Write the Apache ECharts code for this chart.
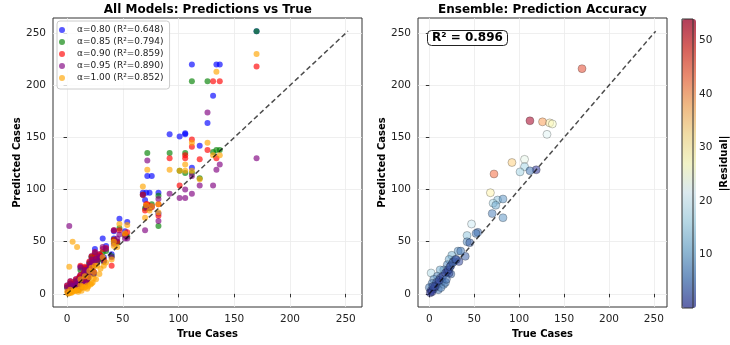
<!DOCTYPE html>
<html>
<head>
<meta charset="utf-8">
<script src="https://cdn.jsdelivr.net/npm/echarts@6/dist/echarts.min.js"></script>
<style>
  html, body { margin: 0; padding: 0; background: #fff; }
  #chart { width: 730px; height: 345px; }
</style>
</head>
<body>
<div id="chart"></div>
<script>
// test set, one entry per sample
var trueCases    = [170, 112, 126, 134, 137, 131, 119,  92, 106, 106, 101, 112,  72,  68,  76,  82,  71,  74,  70,  82,
                     47,  54,  52,  42,  42,  45,  32,  40,  25,  33,  22,  27,  20,  24,  16,  12,  20,  24,   2,   9,
                     12,   5,  14,   3,   9,  16,   0,   5,  10,   2,   7,  13,  18,   1,   3,  22,   6,
                      8,  11,  15,  18,  21,  23,  26,  29,   4,  19,  30,  35];
var predA080     = [252, 220, 164, 220, 220, 190, 142, 153, 153, 154, 151, 121, 113,  97, 113,  97,  97,  97,  90,  77,
                     72,  69,  60,  60,  53,  50,  53,  38,  43,  35,  36,  33,  30,  29,  25,  26,  23,  21,   3,  12,
                     18,   5,  15,  12,  11,  11,   8,   7,   5,   4,   9,   8,  14,   2,   3,  24,   9,
                     14,  16,  20,  24,  27,  31,  35,  38,   9,  17,  36,  46];
var predA085     = [252, 204, 204, 138, 138, 136, 111, 135, 135, 116, 118, 116, 135,  95,  86,  94,  84,  82,  82,  65,
                     63,  55,  56,  52,  50,  49,  40,  36,  38,  31,  35,  31,  29,  27,  24,  23,  21,  19,   3,  10,
                     16,   4,  12,  10,  10,   9,   6,   5,   4,   3,   7,   6,  12,   1,   2,  22,   8,
                     12,  14,  18,  22,  25,  28,  32,  34,   8,  15,  33,  41];
var predA090     = [218, 148, 138, 130, 204, 204, 129, 130, 133, 130, 104, 141,  86,  95,  83,  86,  86,  84,  80,  75,
                     61,  59,  57,  61,  52,  50,  43,  27,  40,  33,  36,  33,  31,  29,  26,  27,  23,  21,   4,  10,
                     18,   4,  14,  12,  11,  10,   8,   6,   5,   4,   9,   7,  13,   2,   3,  24,   9,
                     14,  16,  21,  25,  28,  32,  36,  38,  10,  17,  37,  44];
var predA095     = [130, 113, 174, 119, 124, 104, 104,  96, 100,  92,  92,  96, 128,  95,  84,  91,  83,  82,  61,  70,
                     57,  53,  53,  61,  48,  53,  45,  35,  40,  31,  33,  31,  28,  28,  23,  25,  21,  19,  65,  10,
                     15,   5,  12,  10,   9,   9,   6,   5,   4,   3,   7,   6,  11,   1,   2,  22,   8,
                     12,  14,  19,  23,  26,  30,  34,  36,   8,  16,  35,  43];
var predA100     = [230, 145, 145, 213, 133, 133, 110, 119, 124, 118, 118, 118, 119, 103,  84,  86,  85,  80,  73,  78,
                     67,  66,  58,  50,  46,  45,  35,  33,  27,  27,  25,  27,  22,  21,  17,  14,  16,  15,  26,  45,
                      8,  50,   7,   4,   4,   6,   2,   2,   2,   1,   3,   3,   5,   0,   1,  10,   3,
                      3,   4,   6,   8,   9,  11,  14,  19,   1,   7,  24,  30];
var ensemblePred = [216, 166, 165, 164, 163, 153, 119, 126, 129, 122, 117, 118, 115,  97,  90,  91,  87,  85,  77,  73,
                     67,  59,  58,  56,  50,  49,  41,  36,  37,  31,  33,  31,  28,  27,  23,  23,  21,  19,  20,  17,
                     15,  14,  12,  10,   9,   9,   6,   5,   4,   3,   7,   6,  11,   1,   2,  20,   7,
                     11,  13,  17,  20,  23,  26,  30,  33,   7,  14,  33,  41];

var modelNames = ['α=0.80 (R²=0.648)', 'α=0.85 (R²=0.794)', 'α=0.90 (R²=0.859)',
                  'α=0.95 (R²=0.890)', 'α=1.00 (R²=0.852)'];
var ensembleLabel = 'R² = 0.896';
var axisTicks = [0, 50, 100, 150, 200, 250];
var colorbarTicks = [10, 20, 30, 40, 50];

var modelPreds = [predA080, predA085, predA090, predA095, predA100];
var modelColors = ['#0000ff', '#008000', '#ff0000', '#800080', '#ffa500'];
// RdYlBu reversed
var rdylbuR = ['#313695', '#4575b4', '#74add1', '#abd9e9', '#e0f3f8', '#ffffbf',
               '#fee090', '#fdae61', '#f46d43', '#d73027', '#a50026'];
var FONT = 'DejaVu Sans';

var allVals = trueCases.slice();
modelPreds.forEach(function (p) { allVals = allVals.concat(p); });
var lo = Math.min.apply(null, allVals);
var hi = Math.max.apply(null, allVals);
var pad = (hi - lo) * 0.05;
var axMin = lo - pad, axMax = hi + pad;

var residuals = ensemblePred.map(function (p, i) { return Math.abs(p - trueCases[i]); });
var resMin = Math.min.apply(null, residuals);
var resMax = Math.max.apply(null, residuals);

function valueAxis(gridIndex, name, isY) {
  return {
    type: 'value', gridIndex: gridIndex, min: axMin, max: axMax,
    name: name, nameLocation: 'middle', nameGap: isY ? 30 : 20,
    nameTextStyle: { fontFamily: FONT, fontWeight: 'bold', fontSize: 10, color: '#000' },
    axisLine: { show: false },
    axisTick: { show: true, length: 3.5, customValues: axisTicks, lineStyle: { color: '#333' } },
    axisLabel: { customValues: axisTicks, fontFamily: FONT, fontSize: 10.5, color: '#222', margin: 7 },
    splitLine: { show: true, lineStyle: { color: '#ebebeb', width: 0.8 } }
  };
}

var series = modelPreds.map(function (preds, k) {
  return {
    type: 'scatter', name: modelNames[k], xAxisIndex: 0, yAxisIndex: 0,
    symbolSize: 6,
    data: trueCases.map(function (t, i) { return [t, preds[i]]; }),
    itemStyle: { color: modelColors[k], opacity: 0.65 }
  };
});
var diagStyle = { color: '#000', opacity: 0.7, width: 1.5, type: [5, 3] };
series.push({
  type: 'line', xAxisIndex: 0, yAxisIndex: 0, symbol: 'none',
  data: [[lo, lo], [hi, hi]], lineStyle: diagStyle
});
series.push({
  type: 'scatter', xAxisIndex: 1, yAxisIndex: 1, symbolSize: 8,
  data: trueCases.map(function (t, i) { return [t, ensemblePred[i], residuals[i]]; }),
  itemStyle: { borderColor: 'rgba(0,0,0,0.6)', borderWidth: 0.5 }
});
series.push({
  type: 'line', xAxisIndex: 1, yAxisIndex: 1, symbol: 'none',
  data: [[lo, lo], [hi, hi]], lineStyle: diagStyle
});

var chart = echarts.init(document.getElementById('chart'), null, { renderer: 'canvas' });
chart.setOption({
  backgroundColor: '#fff',
  animation: false,
  textStyle: { fontFamily: FONT },
  title: [
    { text: 'All Models: Predictions vs True', left: 207.8, top: 4, textAlign: 'center', padding: 0,
      textStyle: { fontFamily: FONT, fontSize: 12, fontWeight: 'bold', color: '#000' } },
    { text: 'Ensemble: Prediction Accuracy', left: 542.5, top: 4, textAlign: 'center', padding: 0,
      textStyle: { fontFamily: FONT, fontSize: 12, fontWeight: 'bold', color: '#000' } },
    { text: ensembleLabel, left: 427, top: 30, padding: [2, 5],
      backgroundColor: 'rgba(255,255,255,0.85)', borderColor: '#222', borderWidth: 1, borderRadius: 4,
      textStyle: { fontFamily: FONT, fontSize: 12, fontWeight: 'bold', color: '#000' } }
  ],
  legend: {
    data: modelNames, orient: 'vertical', left: 57, top: 21,
    padding: [3, 6, 5, 2], itemGap: 0, itemWidth: 20, itemHeight: 6, icon: 'circle',
    backgroundColor: 'rgba(255,255,255,0.8)', borderColor: '#ccc', borderWidth: 1, borderRadius: 3,
    textStyle: { fontFamily: FONT, fontSize: 9, color: '#222', lineHeight: 12 }
  },
  grid: [
    { left: 53, top: 18, width: 309, height: 289, show: true, borderColor: '#333', borderWidth: 1, backgroundColor: 'transparent' },
    { left: 418, top: 18, width: 249, height: 289, show: true, borderColor: '#333', borderWidth: 1, backgroundColor: 'transparent' },
    { left: 682, top: 19, width: 14, height: 289, show: true, borderColor: '#333', borderWidth: 1, backgroundColor: 'transparent', z: 10 }
  ],
  xAxis: [
    valueAxis(0, 'True Cases', false),
    valueAxis(1, 'True Cases', false),
    { type: 'value', gridIndex: 2, show: false, min: 0, max: 1 }
  ],
  yAxis: [
    valueAxis(0, 'Predicted Cases', true),
    valueAxis(1, 'Predicted Cases', true),
    {
      type: 'value', gridIndex: 2, position: 'right', min: resMin, max: resMax,
      name: '|Residual|', nameLocation: 'middle', nameRotate: 90, nameGap: 26,
      nameTextStyle: { fontFamily: FONT, fontWeight: 'bold', fontSize: 10, color: '#000' },
      axisLine: { show: false },
      axisTick: { show: true, length: 3.5, customValues: colorbarTicks, lineStyle: { color: '#333' } },
      axisLabel: { customValues: colorbarTicks, fontFamily: FONT, fontSize: 10.5, color: '#222', margin: 6 },
      splitLine: { show: false }
    }
  ],
  visualMap: {
    type: 'continuous', seriesIndex: 6, dimension: 2, min: resMin, max: resMax,
    left: 682, top: 19, itemWidth: 14, itemHeight: 289, padding: 0,
    calculable: false, hoverLink: false,
    inRange: { color: rdylbuR, colorAlpha: [0.7, 0.7] }
  },
  series: series
});
</script>
</body>
</html>
